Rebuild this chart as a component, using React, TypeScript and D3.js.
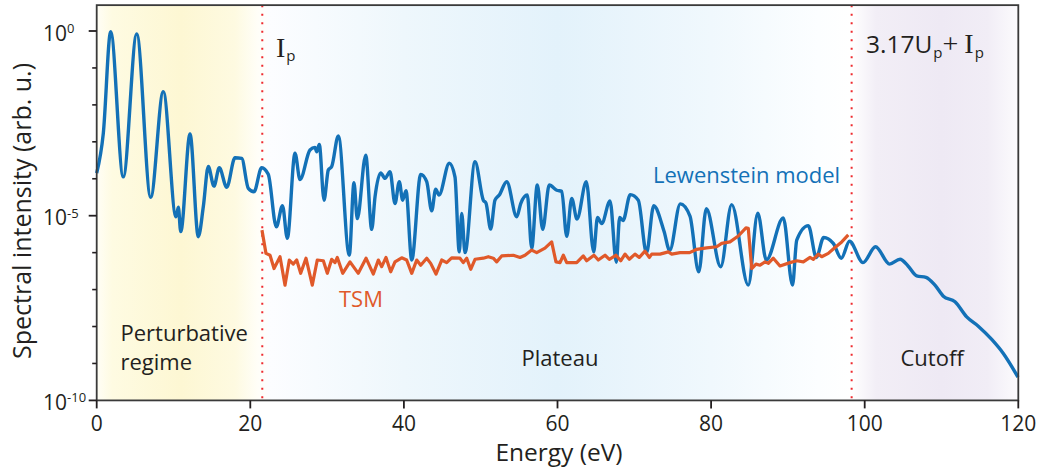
import React from "react";
import * as d3 from "d3";

// Photon energy (eV) and log10 spectral intensity of the Lewenstein-model spectrum
const lewensteinEnergy = [
  0, 0.86, 1.82, 3.46, 5.21, 7.03, 8.67, 10.33, 10.63, 10.94,
  12.15, 13.23, 13.88, 14.53, 15.27, 15.96, 16.93, 18.01, 18.88, 19.74,
  20.48, 21.48, 22.34, 23.39, 24.19, 24.82, 25.82, 26.47, 27.77, 28.42,
  28.65, 28.98, 29.6, 30.16, 30.6, 31.46, 32.89, 33.5, 33.93, 35.03,
  35.81, 36.24, 36.98, 37.54, 38.19, 38.84, 39.4, 39.84, 40.27, 41.02,
  42.19, 42.97, 43.62, 44.14, 44.57, 45.91, 46.65, 47.21, 47.53, 47.96,
  49.26, 50.34, 50.69, 51.3, 51.86, 52.42, 53.39, 54.69, 55.21, 56.07,
  56.64, 57.37, 58.07, 58.93, 59.9, 60.55, 61.2, 61.85, 62.54, 63.75,
  64.71, 65.21, 65.76, 66.84, 67.66, 68.09, 68.53, 69.48, 70.52, 71.59,
  72.53, 73.87, 74.61, 75.99, 77.25, 78.39, 79.38, 81.25, 82.68, 84.84,
  86.08, 87.19, 89.4, 90.6, 91.15, 92.66, 93.7, 94.66, 95.91, 96.95,
  98.02, 99.78, 101.41, 103.24, 104.6, 105.64, 106.77, 107.98, 109.15, 110.24,
  111.76, 113.28, 114.79, 116.54, 118.05, 119.96,
];
const lewensteinLog10 = [
  -3.85, -2.77, -0.02, -3.95, -0.08, -4.5, -1.64, -5.03, -4.77, -5.43,
  -2.79, -5.57, -4.76, -3.67, -4.2, -3.7, -4.23, -3.43, -3.45, -4.26,
  -4.35, -3.7, -3.88, -5.3, -4.73, -5.61, -3.31, -4.02, -3.22, -3.15,
  -3.27, -3.07, -4.58, -3.76, -3.67, -2.84, -6.07, -4.11, -5.08, -3.36,
  -5.37, -4.49, -3.84, -3.99, -3.81, -4.67, -4.08, -4.58, -4.32, -6.2,
  -3.88, -4.08, -4.87, -4.28, -4.44, -3.58, -3.95, -5.98, -4.94, -6.0,
  -3.54, -4.58, -4.66, -5.36, -4.58, -4.44, -4.08, -5.03, -4.67, -4.44,
  -5.88, -4.17, -5.37, -4.17, -4.31, -4.34, -5.56, -4.53, -5.09, -4.08,
  -5.98, -5.05, -5.21, -4.6, -6.26, -5.05, -5.13, -4.43, -4.58, -6.01,
  -4.73, -5.42, -5.94, -4.68, -5.01, -6.52, -4.81, -6.38, -4.7, -6.88,
  -4.93, -6.2, -5.06, -6.88, -5.66, -5.27, -6.13, -5.59, -5.75, -6.15,
  -5.69, -6.27, -5.84, -6.31, -6.18, -6.36, -6.63, -6.67, -6.88, -7.18,
  -7.33, -7.74, -7.99, -8.35, -8.73, -9.37,
];

// Two-step model (TSM) spectrum, defined from Ip up to the classical cutoff
const tsmEnergy = [
  21.52, 22.04, 22.57, 23.09, 23.87, 24.52, 25.08, 25.6, 26.04, 26.56,
  27.25, 28.07, 28.72, 29.51, 30.03, 30.6, 31.03, 31.33, 32.03, 32.98,
  34.06, 35.07, 36.02, 36.67, 37.11, 37.67, 38.28, 38.84, 39.71, 40.36,
  41.02, 41.67, 42.19, 42.97, 43.49, 44.18, 44.92, 45.57, 46.22, 47.3,
  47.73, 48.18, 48.7, 49.26, 50.34, 50.99, 51.64, 52.08, 52.73, 54.24,
  55.12, 55.77, 56.64, 57.29, 58.37, 59.24, 59.8, 60.33, 60.76, 61.2,
  62.5, 63.36, 63.8, 64.75, 65.31, 66.19, 66.75, 67.62, 68.23, 68.79,
  69.35, 70.09, 70.65, 71.39, 71.95, 72.27, 73.35, 74.43, 74.87, 75.96,
  77.21, 78.13, 79.43, 80.73, 81.38, 82.46, 83.54, 84.54, 84.84, 85.29,
  85.85, 86.37, 87.02, 87.45, 88.1, 88.97, 90.27, 91.15, 92.01, 92.88,
  93.31, 93.96, 94.4, 95.26, 96.13, 97.01, 97.86,
];
const tsmLog10 = [
  -5.39, -6.02, -6.07, -6.43, -6.11, -6.88, -6.2, -6.31, -6.2, -6.56,
  -6.15, -6.88, -6.2, -6.22, -6.56, -6.18, -6.27, -6.13, -6.56, -6.25,
  -6.56, -6.15, -6.58, -6.2, -6.38, -6.13, -6.52, -6.25, -6.14, -6.2,
  -6.56, -6.2, -6.34, -6.15, -6.29, -6.58, -6.2, -6.27, -6.14, -6.15,
  -6.27, -6.15, -6.45, -6.18, -6.15, -6.11, -6.15, -6.25, -6.09, -6.07,
  -6.13, -6.07, -5.93, -6.0, -5.88, -5.71, -6.25, -6.27, -6.07, -6.27,
  -6.27, -6.09, -6.22, -6.07, -6.2, -6.07, -6.18, -6.07, -6.22, -6.04,
  -6.18, -6.04, -6.13, -5.96, -6.13, -6.04, -6.04, -5.98, -6.04, -6.0,
  -6.0, -5.91, -5.87, -5.84, -5.75, -5.71, -5.55, -5.33, -5.34, -6.43,
  -6.31, -6.34, -6.25, -6.29, -6.15, -6.36, -6.27, -6.22, -6.25, -6.13,
  -6.18, -6.04, -6.11, -6.02, -5.86, -5.71, -5.52,
];

const xTicks = [0, 20, 40, 60, 80, 100, 120];
const yMajorExponents = [0, -5, -10];
const yMinorExponents = [-1, -2, -3, -4, -6, -7, -8, -9];

// Ionization potential and classical cutoff energy (3.17 Up + Ip), in eV
const ionizationPotential = 21.56;
const cutoffEnergy = 98.3;

const W = 1039;
const H = 470;
const SANS = "'Open Sans', 'Noto Sans', sans-serif";
const SERIF = "'Liberation Serif', 'DejaVu Serif', serif";
const INK = "#231f20";
const BLUE = "#1371b7";
const ORANGE = "#e0592a";

export default function App() {
  const x = d3.scaleLinear().domain([0, 120]).range([96.7, 1018.3]);
  const y = d3.scaleLog().domain([1e-10, 1]).range([400.4, 31]);
  const plotTop = y(Math.pow(10, 0.7));
  const plotBottom = y(1e-10);
  const plotLeft = x(0);
  const plotRight = x(120);

  const lewenstein = lewensteinEnergy.map((e, i) => ({ e, v: Math.pow(10, lewensteinLog10[i]) }));
  const tsm = tsmEnergy.map((e, i) => ({ e, v: Math.pow(10, tsmLog10[i]) }));

  const smoothLine = d3
    .line<{ e: number; v: number }>()
    .x((d) => x(d.e))
    .y((d) => y(d.v))
    .curve(d3.curveMonotoneX);
  const jaggedLine = d3
    .line<{ e: number; v: number }>()
    .x((d) => x(d.e))
    .y((d) => y(d.v));

  // Background shading of the three spectral regions, laid out along energy
  const bandStops: [number, string][] = [
    [0, "#fffef6"],
    [2, "#fefbe2"],
    [11, "#fdf7d3"],
    [18, "#fefae1"],
    [21, "#fffef8"],
    [22.5, "#fcfdff"],
    [40, "#eef7fc"],
    [60, "#e3f2fb"],
    [80, "#f0f8fd"],
    [94, "#fcfeff"],
    [98.3, "#ffffff"],
    [101.5, "#f2eef6"],
    [110, "#eee9f4"],
    [116, "#f1edf6"],
    [120, "#fcfbfd"],
  ];

  return (
    <svg
      width={W}
      height={H}
      viewBox={`0 0 ${W} ${H}`}
      style={{ position: "absolute", left: 0, top: 0, background: "#ffffff" }}
    >
      <defs>
        <linearGradient id="regionBands" gradientUnits="userSpaceOnUse" x1={plotLeft} x2={plotRight} y1={0} y2={0}>
          {bandStops.map(([e, c], i) => (
            <stop key={i} offset={(x(e) - plotLeft) / (plotRight - plotLeft)} stopColor={c} />
          ))}
        </linearGradient>
      </defs>

      <rect x={plotLeft} y={plotTop} width={plotRight - plotLeft} height={plotBottom - plotTop} fill="url(#regionBands)" />

      {/* Region labels */}
      <g fontFamily={SANS} fontSize={22} fill={INK}>
        <text x={120.5} y={340.5}>Perturbative</text>
        <text x={120.5} y={370}>regime</text>
        <text x={521.5} y={366}>Plateau</text>
        <text x={900.5} y={365.5}>Cutoff</text>
      </g>

      {/* Ip and cutoff markers */}
      {[ionizationPotential, cutoffEnergy].map((e) => (
        <line
          key={e}
          x1={x(e)}
          x2={x(e)}
          y1={plotTop}
          y2={plotBottom}
          stroke="#ee2a2f"
          strokeWidth={2}
          strokeDasharray="2 6.5"
        />
      ))}

      <text x={276} y={57} fill={INK}>
        <tspan fontFamily={SERIF} fontSize={28}>I</tspan>
        <tspan fontFamily={SANS} fontSize={15} dx={1} dy={4}>p</tspan>
      </text>
      <text x={866} y={53} fill={INK}>
        <tspan fontFamily={SANS} fontSize={24.5}>3.17U</tspan>
        <tspan fontFamily={SANS} fontSize={15} dx={1} dy={5}>p</tspan>
        <tspan fontFamily={SERIF} fontSize={28} dx={0} dy={-5}>+</tspan>
        <tspan fontFamily={SERIF} fontSize={28} dx={6}>I</tspan>
        <tspan fontFamily={SANS} fontSize={15} dx={1} dy={5}>p</tspan>
      </text>

      {/* Spectra */}
      <path d={smoothLine(lewenstein) ?? ""} fill="none" stroke={BLUE} strokeWidth={3.4} strokeLinejoin="round" />
      <path d={jaggedLine(tsm) ?? ""} fill="none" stroke={ORANGE} strokeWidth={3.2} strokeLinejoin="round" />

      <text x={653} y={183.3} fontFamily={SANS} fontSize={22} fill={BLUE}>Lewenstein model</text>
      <text x={339} y={307.3} fontFamily={SANS} fontSize={22} fill={ORANGE}>TSM</text>

      {/* Frame */}
      <rect
        x={plotLeft}
        y={plotTop}
        width={plotRight - plotLeft}
        height={plotBottom - plotTop}
        fill="none"
        stroke="#3a3a3a"
        strokeWidth={1.8}
      />

      {/* x axis */}
      <g fontFamily={SANS} fontSize={21} fill={INK}>
        {xTicks.map((t) => (
          <g key={t}>
            <line x1={x(t)} x2={x(t)} y1={plotBottom} y2={plotBottom + 8} stroke="#231f20" strokeWidth={1.8} />
            <text x={x(t)} y={431} textAnchor="middle">{t}</text>
          </g>
        ))}
        <text x={559} y={460.5} textAnchor="middle" fontSize={24.5}>Energy (eV)</text>
      </g>

      {/* y axis */}
      <g fontFamily={SANS} fill={INK}>
        {yMinorExponents.map((p) => (
          <line key={p} x1={plotLeft - 4.5} x2={plotLeft} y1={y(Math.pow(10, p))} y2={y(Math.pow(10, p))} stroke="#231f20" strokeWidth={1.6} />
        ))}
        {yMajorExponents.map((p) => (
          <g key={p}>
            <line x1={plotLeft - 8} x2={plotLeft} y1={y(Math.pow(10, p))} y2={y(Math.pow(10, p))} stroke="#231f20" strokeWidth={1.8} />
            <text x={43} y={y(Math.pow(10, p)) + 9.5} fontSize={21}>
              10
              <tspan fontSize={13} dy={-7.5}>{p === 0 ? "0" : `-${Math.abs(p)}`}</tspan>
            </text>
          </g>
        ))}
        <text transform="translate(31, 211) rotate(-90)" textAnchor="middle" fontSize={25}>
          Spectral intensity (arb. u.)
        </text>
      </g>
    </svg>
  );
}
